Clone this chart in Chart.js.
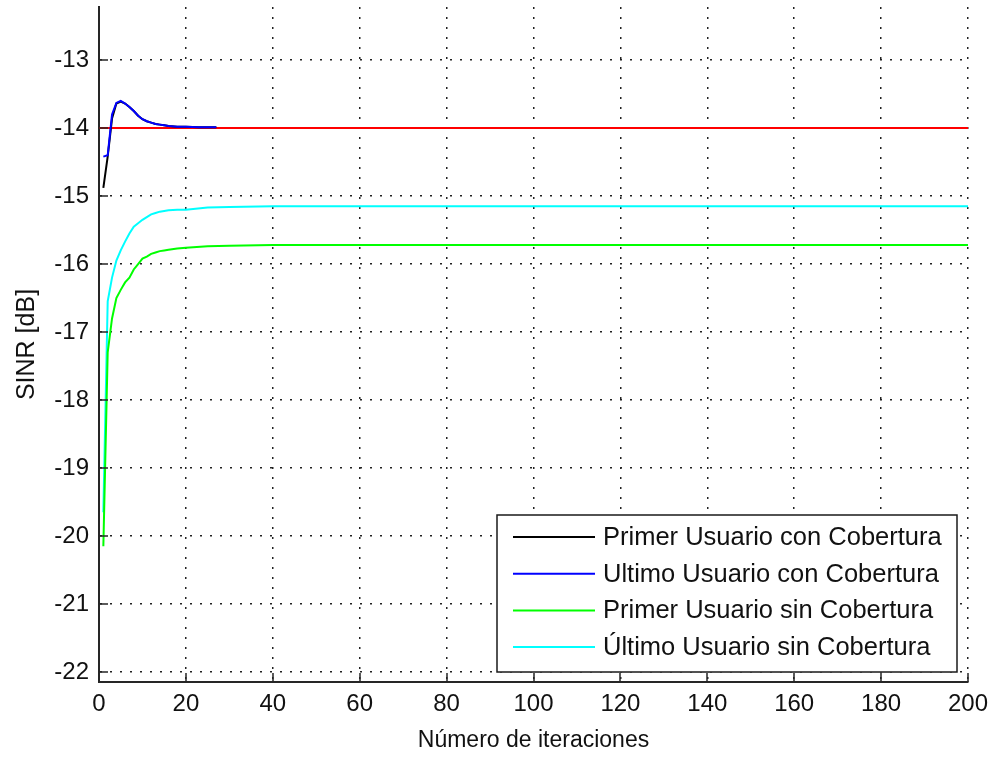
<!DOCTYPE html>
<html>
<head>
<meta charset="utf-8">
<script src="https://cdn.jsdelivr.net/npm/chart.js@4"></script>
<style>
  html, body { margin: 0; padding: 0; background: #fff; }
  #wrap { width: 993px; height: 757px; }
</style>
</head>
<body>
<div id="wrap"><canvas id="sinrChart" width="993" height="757"></canvas></div>
<script>
'use strict';

// SINR (dB) per iteration, users with coverage
const conIters = [1, 2, 3, 4, 5, 6, 7, 8, 9, 10, 11, 12, 13, 14, 15, 16, 18, 20, 23, 27];
const primerCon = [-14.88, -14.42, -13.86, -13.64, -13.61, -13.64, -13.69, -13.75, -13.82, -13.87, -13.90, -13.92, -13.94, -13.95, -13.96, -13.97, -13.98, -13.98, -13.99, -13.99];
const ultimoCon = [-14.42, -14.40, -13.80, -13.63, -13.60, -13.64, -13.69, -13.75, -13.82, -13.87, -13.90, -13.92, -13.94, -13.95, -13.96, -13.97, -13.98, -13.98, -13.99, -13.99];

// users without coverage
const sinIters = [1, 2, 3, 4, 5, 6, 7, 8, 9, 10, 11, 12, 13, 14, 15, 16, 18, 20, 25, 30, 40, 200];
const primerSin = [-20.15, -17.30, -16.80, -16.50, -16.38, -16.27, -16.20, -16.08, -16.00, -15.92, -15.89, -15.85, -15.83, -15.81, -15.80, -15.79, -15.77, -15.76, -15.74, -15.73, -15.72, -15.72];
const ultimoSin = [-19.65, -16.55, -16.20, -15.95, -15.80, -15.67, -15.55, -15.45, -15.40, -15.35, -15.31, -15.27, -15.25, -15.23, -15.22, -15.21, -15.20, -15.20, -15.17, -15.16, -15.15, -15.15];

// target level
const targetIters = [0, 200];
const target = [-14, -14];

// axes
const xTicks = [0, 20, 40, 60, 80, 100, 120, 140, 160, 180, 200];
const yTicks = [-22, -21, -20, -19, -18, -17, -16, -15, -14, -13];
const xRange = [0, 200];
const yRange = [-22.147, -12.22];

const FONT = 'Liberation Sans, Arial, Helvetica, sans-serif';

let toPoints = (xs, ys) => xs.map((v, i) => ({ x: v, y: ys[i] }));

// inward tick marks on the left and bottom axes
const innerTicks = {
  id: 'innerTicks',
  afterDatasetsDraw(chart) {
    const { ctx, chartArea: a, scales: { x, y } } = chart;
    ctx.save();
    ctx.strokeStyle = '#262626';
    ctx.lineWidth = 1.5;
    ctx.beginPath();
    x.ticks.forEach(function (t) {
      const px = Math.round(x.getPixelForValue(t.value));
      ctx.moveTo(px, a.bottom);
      ctx.lineTo(px, a.bottom - 9);
    });
    y.ticks.forEach(function (t) {
      const py = Math.round(y.getPixelForValue(t.value));
      ctx.moveTo(a.left, py);
      ctx.lineTo(a.left + 9, py);
    });
    ctx.stroke();
    ctx.restore();
  }
};

// boxed legend in the lower right corner of the plot
const legendBox = {
  id: 'legendBox',
  afterDraw(chart) {
    const { ctx, chartArea: a } = chart;
    const items = chart.data.datasets.filter(d => d.inLegend);
    const rowH = 36.7;
    const w = 460;
    const h = 157;
    const right = a.right - 11;
    const bottom = a.bottom - 10;
    const left = right - w;
    const top = bottom - h;
    ctx.save();
    ctx.fillStyle = '#fff';
    ctx.fillRect(left, top, w, h);
    ctx.strokeStyle = '#1a1a1a';
    ctx.lineWidth = 1.5;
    ctx.strokeRect(left, top, w, h);
    ctx.font = '25.5px ' + FONT;
    ctx.textBaseline = 'middle';
    ctx.textAlign = 'left';
    items.forEach(function (d, i) {
      const yy = top + 22 + i * rowH;
      ctx.strokeStyle = d.borderColor;
      ctx.lineWidth = 2;
      ctx.beginPath();
      ctx.moveTo(left + 16, yy);
      ctx.lineTo(left + 98, yy);
      ctx.stroke();
      ctx.fillStyle = '#111';
      ctx.fillText(d.label, left + 106, yy + 1);
    });
    ctx.restore();
  }
};

const gridOpts = { color: '#222', lineWidth: 1.5, drawTicks: false };
const borderOpts = { color: '#262626', width: 2, dash: [2, 8] };

const canvas = document.getElementById('sinrChart');
const chart = new Chart(canvas.getContext('2d'), {
  type: 'line',
  data: {
    datasets: [
      { label: 'Primer Usuario con Cobertura', data: toPoints(conIters, primerCon), borderColor: '#000000', order: 2, inLegend: true },
      { label: 'Ultimo Usuario con Cobertura', data: toPoints(conIters, ultimoCon), borderColor: '#0000ff', order: 1, inLegend: true },
      { label: 'Primer Usuario sin Cobertura', data: toPoints(sinIters, primerSin), borderColor: '#00ff00', order: 4, inLegend: true },
      { label: 'Último Usuario sin Cobertura', data: toPoints(sinIters, ultimoSin), borderColor: '#00ffff', order: 5, inLegend: true },
      { label: 'Objetivo', data: toPoints(targetIters, target), borderColor: '#ff0000', order: 3, inLegend: false }
    ]
  },
  options: {
    responsive: false,
    animation: false,
    layout: { padding: { top: 7, right: 25, left: 0, bottom: 0 } },
    elements: {
      point: { radius: 0 },
      line: { borderWidth: 2, tension: 0, fill: false }
    },
    plugins: {
      legend: { display: false },
      tooltip: { enabled: false }
    },
    scales: {
      x: {
        type: 'linear',
        min: xRange[0],
        max: xRange[1],
        afterBuildTicks: s => { s.ticks = xTicks.map(v => ({ value: v })); },
        afterFit: s => { s.height = 75; s.paddingLeft = 0; s.paddingRight = 0; },
        grid: gridOpts,
        border: borderOpts,
        ticks: { color: '#111', padding: 8, font: { family: FONT, size: 24 }, maxRotation: 0 },
        title: { display: true, text: 'Número de iteraciones', color: '#111', padding: { top: 0, bottom: 3 }, font: { family: FONT, size: 23 } }
      },
      y: {
        type: 'linear',
        min: yRange[0],
        max: yRange[1],
        afterBuildTicks: s => { s.ticks = yTicks.map(v => ({ value: v })); },
        afterFit: s => { s.width = 99; s.paddingTop = 0; s.paddingBottom = 0; },
        grid: gridOpts,
        border: borderOpts,
        ticks: { color: '#111', padding: 10, font: { family: FONT, size: 24 } },
        title: { display: true, text: 'SINR [dB]', color: '#111', padding: { top: 12, bottom: 0 }, font: { family: FONT, size: 25 } }
      }
    }
  },
  plugins: [innerTicks, legendBox]
});
</script>
</body>
</html>
